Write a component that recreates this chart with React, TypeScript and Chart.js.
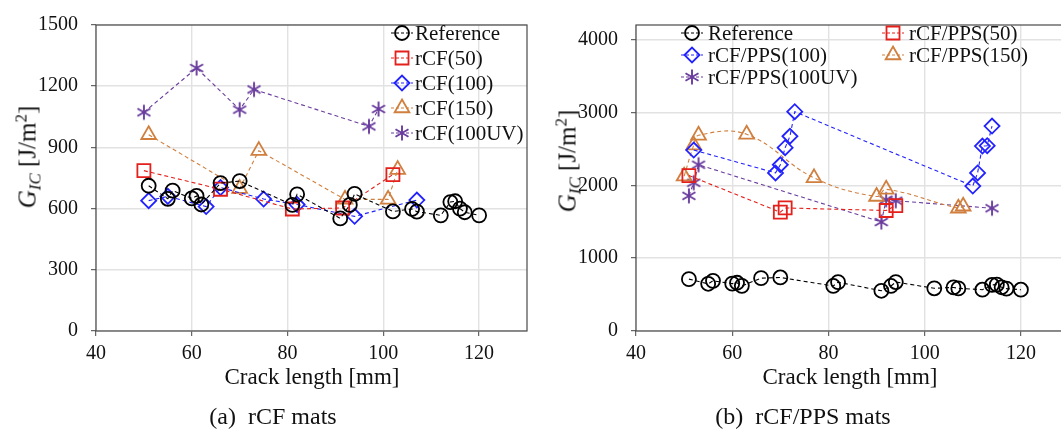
import React, { useEffect, useRef } from "react";
import { Chart, registerables } from "chart.js";
Chart.register(...registerables);

const FONT = "'Liberation Serif', 'Times New Roman', serif";

// ---------- shared reference data ----------
const refX = [51, 55, 56, 60, 61, 62, 66, 70, 81, 82, 91, 93, 94, 102, 106, 107, 112, 114, 115, 116, 117, 120];
const refY = [712, 648, 688, 650, 662, 620, 725, 735, 618, 670, 552, 618, 672, 586, 598, 585, 567, 632, 636, 600, 582, 567];

// ---------- (a) rCF mats ----------
const rcf50X = [50, 66, 81, 91.5, 102];
const rcf50Y = [786, 695, 598, 603, 767];
const rcf100X = [51, 55, 63, 66, 75, 82, 94, 107];
const rcf100Y = [639, 660, 610, 703, 647, 620, 562, 642];
const rcf150X = [51, 70, 74, 92, 101, 103];
const rcf150Y = [962, 698, 884, 645, 645, 791];
const rcf100uvX = [50, 61, 70, 73, 97, 99];
const rcf100uvY = [1072, 1289, 1085, 1184, 1003, 1088];

// ---------- (b) rCF/PPS mats ----------
const pps50X = [51, 70, 71, 92, 94];
const pps50Y = [2133, 1631, 1689, 1654, 1721];
const pps100X = [52, 69, 70, 71, 72, 73, 110, 111, 112, 113, 114];
const pps100Y = [2484, 2170, 2282, 2516, 2673, 3010, 1990, 2170, 2538, 2543, 2813];
const pps150X = [50, 52, 53, 63, 77, 90, 92, 107, 108];
const pps150Y = [2125, 2551, 2686, 2700, 2102, 1846, 1945, 1685, 1712];
const pps100uvX = [51, 52, 53, 91, 92, 94, 114];
const pps100uvY = [1855, 2035, 2282, 1496, 1802, 1788, 1685];

// ---------- axis ticks ----------
const xTicks = [40, 60, 80, 100, 120];
const leftYTicks = [0, 300, 600, 900, 1200, 1500];
const rightYTicks = [0, 1000, 2000, 3000, 4000];

const leftLabels = ["Reference", "rCF(50)", "rCF(100)", "rCF(150)", "rCF(100UV)"];
const rightLabels = ["Reference", "rCF/PPS(50)", "rCF/PPS(100)", "rCF/PPS(150)", "rCF/PPS(100UV)"];

const BLACK = "#000000";
const RED = "#e3201b";
const BLUE = "#2222ff";
const ORANGE = "#d07f3e";
const PURPLE = "#6a3d9e";

function makeStar(color: string) {
  const c = document.createElement("canvas");
  c.width = 20;
  c.height = 20;
  const ctx = c.getContext("2d")!;
  ctx.strokeStyle = color;
  ctx.lineWidth = 1.9;
  const r = 7.5;
  [90, 30, 150].forEach((a) => {
    const rad = (a * Math.PI) / 180;
    ctx.beginPath();
    ctx.moveTo(10 - r * Math.cos(rad), 10 - r * Math.sin(rad));
    ctx.lineTo(10 + r * Math.cos(rad), 10 + r * Math.sin(rad));
    ctx.stroke();
  });
  return c;
}

type Style = { color: string; shape: string; radius: number; img?: HTMLCanvasElement };

function drawMarker(ctx: CanvasRenderingContext2D, s: Style, x: number, y: number) {
  ctx.save();
  ctx.strokeStyle = s.color;
  ctx.lineWidth = 1.8;
  const r = s.radius;
  ctx.beginPath();
  if (s.shape === "circle") {
    ctx.arc(x, y, r, 0, Math.PI * 2);
  } else if (s.shape === "rect") {
    const h = Math.SQRT1_2 * r;
    ctx.rect(x - h, y - h, 2 * h, 2 * h);
  } else if (s.shape === "rectRot") {
    ctx.moveTo(x - r, y);
    ctx.lineTo(x, y - r);
    ctx.lineTo(x + r, y);
    ctx.lineTo(x, y + r);
    ctx.closePath();
  } else if (s.shape === "triangle") {
    let rad = 0;
    ctx.moveTo(x + Math.sin(rad) * r, y - Math.cos(rad) * r);
    rad += (2 * Math.PI) / 3;
    ctx.lineTo(x + Math.sin(rad) * r, y - Math.cos(rad) * r);
    rad += (2 * Math.PI) / 3;
    ctx.lineTo(x + Math.sin(rad) * r, y - Math.cos(rad) * r);
    ctx.closePath();
  }
  if (s.img) {
    ctx.drawImage(s.img, x - s.img.width / 2, y - s.img.height / 2);
  } else {
    ctx.stroke();
  }
  ctx.restore();
}

function ds(label: string, xs: number[], ys: number[], s: Style, tension = 0) {
  return {
    label,
    data: xs.map((x, i) => ({ x, y: ys[i] })),
    showLine: true,
    borderColor: s.color,
    borderWidth: 1.1,
    borderDash: [4, 3],
    tension,
    pointStyle: s.img ? s.img : s.shape,
    pointRadius: s.radius,
    pointHoverRadius: s.radius,
    pointBorderWidth: 1.8,
    pointBorderColor: s.color,
    pointBackgroundColor: "rgba(0,0,0,0)",
  };
}

function boxPlugin() {
  return {
    id: "box",
    afterDraw(chart: any) {
      const { ctx, chartArea: a } = chart;
      ctx.save();
      ctx.strokeStyle = "#4a4a4a";
      ctx.lineWidth = 1.2;
      ctx.strokeRect(a.left, a.top, a.right - a.left, a.bottom - a.top);
      ctx.restore();
    },
  };
}

function legendPlugin(items: { label: string; s: Style }[], cols: number[], y0: number, dy: number, gap: number) {
  return {
    id: "customLegend",
    afterDraw(chart: any) {
      const ctx = chart.ctx as CanvasRenderingContext2D;
      ctx.save();
      items.forEach((it, i) => {
        const col = i % cols.length;
        const row = Math.floor(i / cols.length);
        const mx = cols[col];
        const my = y0 + row * dy;
        ctx.strokeStyle = it.s.color;
        ctx.lineWidth = 1.1;
        ctx.setLineDash([3, 2]);
        ctx.beginPath();
        ctx.moveTo(mx - 11, my);
        ctx.lineTo(mx + 11, my);
        ctx.stroke();
        ctx.setLineDash([]);
        drawMarker(ctx, it.s, mx, my);
        ctx.fillStyle = "#111";
        ctx.font = `21px ${FONT}`;
        ctx.textBaseline = "middle";
        ctx.textAlign = "left";
        ctx.fillText(it.label, mx + gap, my + 1);
      });
      ctx.restore();
    },
  };
}

function makeOptions(yMax: number, yTicks: number[], rightPad: number) {
  return {
    responsive: false,
    animation: false,
    layout: { padding: { top: 19, right: rightPad, left: 0, bottom: 0 } },
    plugins: { legend: { display: false }, tooltip: { enabled: false } },
    scales: {
      x: {
        type: "linear",
        min: 40,
        max: 130,
        afterFit: (s: any) => {
          s.height = 104;
        },
        afterBuildTicks: (s: any) => {
          s.ticks = xTicks.map((v) => ({ value: v }));
        },
        ticks: {
          font: { family: FONT, size: 20 },
          color: "#111",
          padding: 6,
          maxRotation: 0,
          callback: (v: any) => String(v),
        },
        grid: { color: "#e2e2e2", lineWidth: 1.4, tickColor: "#444", tickLength: 5, tickWidth: 1 },
        border: { display: false },
      },
      y: {
        type: "linear",
        min: 0,
        max: yMax,
        afterFit: (s: any) => {
          s.width = 96;
        },
        afterBuildTicks: (s: any) => {
          s.ticks = yTicks.map((v) => ({ value: v }));
        },
        ticks: {
          font: { family: FONT, size: 20 },
          color: "#111",
          padding: 13,
          callback: (v: any) => String(v),
        },
        grid: { color: "#e2e2e2", lineWidth: 1.4, tickColor: "#444", tickLength: 5, tickWidth: 1 },
        border: { display: false },
      },
    },
  };
}

function LeftChart() {
  const ref = useRef<HTMLCanvasElement>(null);
  useEffect(() => {
    const sRef: Style = { color: BLACK, shape: "circle", radius: 7 };
    const s50: Style = { color: RED, shape: "rect", radius: 9.2 };
    const s100: Style = { color: BLUE, shape: "rectRot", radius: 7.5 };
    const s150: Style = { color: ORANGE, shape: "triangle", radius: 8.5 };
    const sUV: Style = { color: PURPLE, shape: "star", radius: 8, img: makeStar(PURPLE) };
    const chart = new Chart(ref.current!, {
      type: "scatter",
      data: {
        datasets: [
          ds(leftLabels[0], refX, refY, sRef),
          ds(leftLabels[1], rcf50X, rcf50Y, s50),
          ds(leftLabels[2], rcf100X, rcf100Y, s100),
          ds(leftLabels[3], rcf150X, rcf150Y, s150),
          ds(leftLabels[4], rcf100uvX, rcf100uvY, sUV),
        ] as any,
      },
      options: makeOptions(1500, leftYTicks, 13) as any,
      plugins: [
        boxPlugin(),
        legendPlugin(
          [
            { label: leftLabels[0], s: sRef },
            { label: leftLabels[1], s: s50 },
            { label: leftLabels[2], s: s100 },
            { label: leftLabels[3], s: s150 },
            { label: leftLabels[4], s: sUV },
          ],
          [402],
          33,
          25,
          13
        ),
      ],
    });
    return () => chart.destroy();
  }, []);
  return <canvas ref={ref} width={540} height={435} style={{ display: "block", width: 540, height: 435 }} />;
}

function RightChart() {
  const ref = useRef<HTMLCanvasElement>(null);
  useEffect(() => {
    const sRef: Style = { color: BLACK, shape: "circle", radius: 7 };
    const s50: Style = { color: RED, shape: "rect", radius: 9.2 };
    const s100: Style = { color: BLUE, shape: "rectRot", radius: 7.5 };
    const s150: Style = { color: ORANGE, shape: "triangle", radius: 8.5 };
    const sUV: Style = { color: PURPLE, shape: "star", radius: 8, img: makeStar(PURPLE) };
    const chart = new Chart(ref.current!, {
      type: "scatter",
      data: {
        datasets: [
          ds(rightLabels[0], refX, refY, sRef),
          ds(rightLabels[1], pps50X, pps50Y, s50),
          ds(rightLabels[2], pps100X, pps100Y, s100),
          ds(rightLabels[3], pps150X, pps150Y, s150, 0.4),
          ds(rightLabels[4], pps100uvX, pps100uvY, sUV),
        ] as any,
      },
      options: makeOptions(4200, rightYTicks, 10) as any,
      plugins: [
        boxPlugin(),
        legendPlugin(
          [
            { label: rightLabels[0], s: sRef },
            { label: rightLabels[1], s: s50 },
            { label: rightLabels[2], s: s100 },
            { label: rightLabels[3], s: s150 },
            { label: rightLabels[4], s: sUV },
          ],
          [692 - 540, 893 - 540],
          33,
          22,
          16
        ),
      ],
    });
    return () => chart.destroy();
  }, []);
  return <canvas ref={ref} width={540} height={435} style={{ display: "block", width: 540, height: 435 }} />;
}

const textBase: React.CSSProperties = {
  position: "absolute",
  fontFamily: FONT,
  color: "#111",
  whiteSpace: "nowrap",
  lineHeight: 1,
  transform: "translate(-50%, -50%)",
};

function YTitle({ x, y }: { x: number; y: number }) {
  return (
    <div style={{ ...textBase, left: x, top: y, fontSize: 25, transform: "translate(-50%, -50%) rotate(-90deg)" }}>
      <i>G</i>
      <sub style={{ fontSize: 17, verticalAlign: "-5px" }}>
        <i>IC</i>
      </sub>
      {" "}[J/m<sup style={{ fontSize: 17, verticalAlign: "9px" }}>2</sup>]
    </div>
  );
}

export default function App() {
  return (
    <div style={{ position: "fixed", left: 0, top: 0, width: 1061, height: 435, background: "#fff", overflow: "hidden" }}>
      <div style={{ position: "absolute", left: 0, top: 0, width: 540, height: 435 }}>
        <LeftChart />
      </div>
      <div style={{ position: "absolute", left: 540, top: 0, width: 521, height: 435, overflow: "hidden" }}>
        <RightChart />
      </div>
      <YTitle x={28} y={157} />
      <YTitle x={568} y={161} />
      <div style={{ ...textBase, left: 312, top: 376, fontSize: 23 }}>Crack length [mm]</div>
      <div style={{ ...textBase, left: 850, top: 376, fontSize: 23 }}>Crack length [mm]</div>
      <div style={{ ...textBase, left: 273, top: 416, fontSize: 24 }}>(a)&nbsp; rCF mats</div>
      <div style={{ ...textBase, left: 803, top: 416, fontSize: 24 }}>(b)&nbsp; rCF/PPS mats</div>
    </div>
  );
}
